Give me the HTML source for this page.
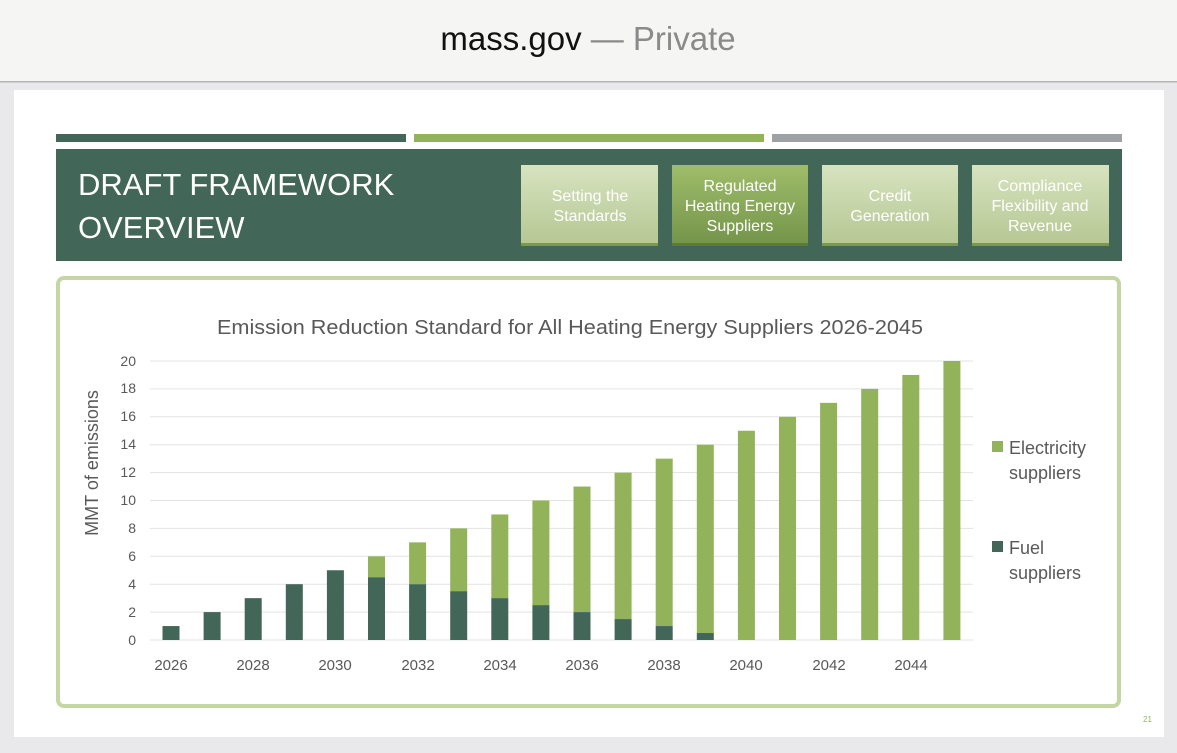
<!DOCTYPE html>
<html><head><style>
html,body{margin:0;padding:0;width:1177px;height:753px;overflow:hidden;background:#e9e9ec;}
svg{display:block;}
</style></head><body>
<svg width="1177" height="753" xmlns="http://www.w3.org/2000/svg" font-family="Liberation Sans, sans-serif">
<defs>
<linearGradient id="lg" x1="0" y1="0" x2="0" y2="1"><stop offset="0" stop-color="#d7e3bf"/><stop offset="1" stop-color="#b5c793"/></linearGradient>
<linearGradient id="dg" x1="0" y1="0" x2="0" y2="1"><stop offset="0" stop-color="#9fbd6a"/><stop offset="1" stop-color="#74944a"/></linearGradient>
</defs>
<rect x="0" y="0" width="1177" height="82" fill="#f5f6f4"/>
<rect x="0" y="81" width="1177" height="1.5" fill="#b5b5b5"/>
<text x="588" y="50" font-size="33" text-anchor="middle" fill="#111">mass.gov <tspan fill="#8a8a8a">— Private</tspan></text>
<rect x="14" y="90" width="1150" height="647" fill="#fff"/>
<rect x="56" y="134" width="350" height="8" fill="#426657"/>
<rect x="414" y="134" width="350" height="8" fill="#93b35a"/>
<rect x="772" y="134" width="350" height="8" fill="#9ea2a5"/>
<rect x="56" y="149" width="1066" height="112" fill="#426657"/>
<text x="78" y="195" font-size="31" fill="#fff">DRAFT FRAMEWORK</text>
<text x="78" y="238" font-size="31" fill="#fff">OVERVIEW</text>
<g font-size="16" fill="#fff" text-anchor="middle">
<rect x="521" y="165" width="137" height="80" fill="url(#lg)"/><rect x="521" y="243" width="137" height="3" fill="#7a9a4a"/>
<text x="590" y="201">Setting the</text><text x="590" y="221">Standards</text>
<rect x="672" y="165" width="136" height="80" fill="url(#dg)"/><rect x="672" y="243" width="136" height="3" fill="#5c7a38"/>
<text x="740" y="191">Regulated</text><text x="740" y="211">Heating Energy</text><text x="740" y="231">Suppliers</text>
<rect x="822" y="165" width="136" height="80" fill="url(#lg)"/><rect x="822" y="243" width="136" height="3" fill="#7a9a4a"/>
<text x="890" y="201">Credit</text><text x="890" y="221">Generation</text>
<rect x="972" y="165" width="137" height="80" fill="url(#lg)"/><rect x="972" y="243" width="137" height="3" fill="#7a9a4a"/>
<text x="1040" y="191">Compliance</text><text x="1040" y="211">Flexibility and</text><text x="1040" y="231">Revenue</text>
</g>
<rect x="58" y="278" width="1061" height="428" rx="6" fill="#fff" stroke="#c4d6a4" stroke-width="4"/>
<text x="570" y="334" font-size="20" fill="#595959" text-anchor="middle" textLength="706" lengthAdjust="spacingAndGlyphs">Emission Reduction Standard for All Heating Energy Suppliers 2026-2045</text>
<g stroke="#e3e3e3" stroke-width="1">
<line x1="150" x2="973" y1="640" y2="640"/><line x1="150" x2="973" y1="612.1" y2="612.1"/><line x1="150" x2="973" y1="584.2" y2="584.2"/><line x1="150" x2="973" y1="556.3" y2="556.3"/><line x1="150" x2="973" y1="528.4" y2="528.4"/><line x1="150" x2="973" y1="500.5" y2="500.5"/><line x1="150" x2="973" y1="472.6" y2="472.6"/><line x1="150" x2="973" y1="444.7" y2="444.7"/><line x1="150" x2="973" y1="416.8" y2="416.8"/><line x1="150" x2="973" y1="388.9" y2="388.9"/><line x1="150" x2="973" y1="361" y2="361"/>
</g>
<g font-size="14" fill="#595959" text-anchor="end">
<text x="136" y="645">0</text><text x="136" y="617">2</text><text x="136" y="589">4</text><text x="136" y="561">6</text><text x="136" y="533">8</text><text x="136" y="505">10</text><text x="136" y="477">12</text><text x="136" y="449">14</text><text x="136" y="421">16</text><text x="136" y="393">18</text><text x="136" y="366">20</text>
</g>
<text transform="translate(98,463) rotate(-90)" font-size="18" fill="#595959" text-anchor="middle">MMT of emissions</text>
<g transform="translate(0,640) scale(1,-13.95)">
<g fill="#93b35a">
<rect x="368" y="4.5" width="17" height="1.5"/><rect x="409.1" y="4" width="17" height="3"/><rect x="450.2" y="3.5" width="17" height="4.5"/><rect x="491.3" y="3" width="17" height="6"/><rect x="532.4" y="2.5" width="17" height="7.5"/><rect x="573.5" y="2" width="17" height="9"/><rect x="614.6" y="1.5" width="17" height="10.5"/><rect x="655.7" y="1" width="17" height="12"/><rect x="696.8" y="0.5" width="17" height="13.5"/><rect x="737.9" y="0" width="17" height="15"/><rect x="779" y="0" width="17" height="16"/><rect x="820.1" y="0" width="17" height="17"/><rect x="861.2" y="0" width="17" height="18"/><rect x="902.3" y="0" width="17" height="19"/><rect x="943.4" y="0" width="17" height="20"/>
</g>
<g fill="#426657">
<rect x="162.5" y="0" width="17" height="1"/><rect x="203.6" y="0" width="17" height="2"/><rect x="244.7" y="0" width="17" height="3"/><rect x="285.8" y="0" width="17" height="4"/><rect x="326.9" y="0" width="17" height="5"/><rect x="368" y="0" width="17" height="4.5"/><rect x="409.1" y="0" width="17" height="4"/><rect x="450.2" y="0" width="17" height="3.5"/><rect x="491.3" y="0" width="17" height="3"/><rect x="532.4" y="0" width="17" height="2.5"/><rect x="573.5" y="0" width="17" height="2"/><rect x="614.6" y="0" width="17" height="1.5"/><rect x="655.7" y="0" width="17" height="1"/><rect x="696.8" y="0" width="17" height="0.5"/>
</g>
</g>
<g font-size="15" fill="#595959" text-anchor="middle">
<text x="171" y="670">2026</text><text x="253" y="670">2028</text><text x="335" y="670">2030</text><text x="418" y="670">2032</text><text x="500" y="670">2034</text><text x="582" y="670">2036</text><text x="664" y="670">2038</text><text x="746" y="670">2040</text><text x="829" y="670">2042</text><text x="911" y="670">2044</text>
</g>
<rect x="992" y="441" width="11" height="11" fill="#93b35a"/>
<text x="1009" y="454" font-size="18" fill="#595959">Electricity</text>
<text x="1009" y="479" font-size="18" fill="#595959">suppliers</text>
<rect x="992" y="541" width="11" height="11" fill="#426657"/>
<text x="1009" y="554" font-size="18" fill="#595959">Fuel</text>
<text x="1009" y="579" font-size="18" fill="#595959">suppliers</text>
<text x="1143" y="722" font-size="8" fill="#93b35a">21</text>
</svg>
</body></html>
